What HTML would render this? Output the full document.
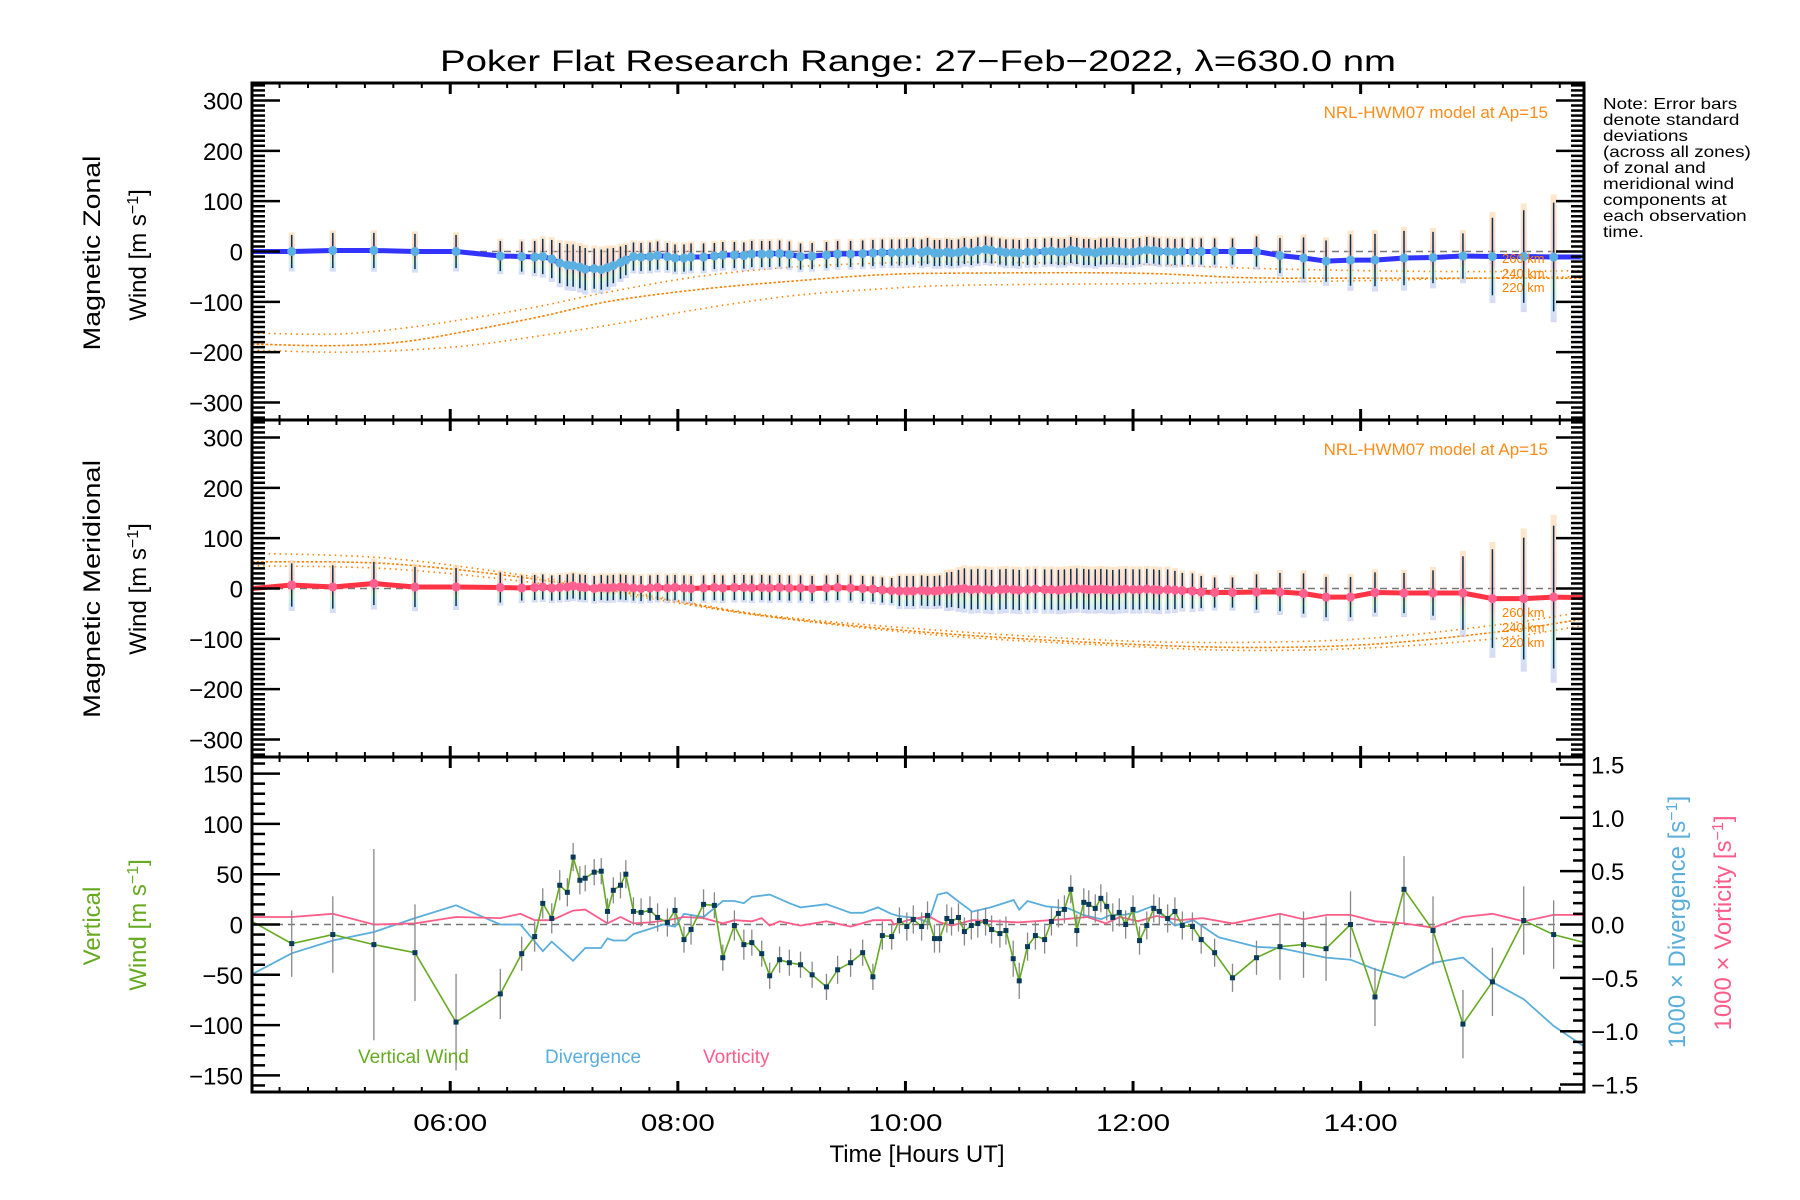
<!DOCTYPE html>
<html><head><meta charset="utf-8"><title>Poker Flat winds</title>
<style>html,body{margin:0;padding:0;background:#fff}svg{display:block}text{font-family:"Liberation Sans",sans-serif}</style>
</head><body>
<svg id="chart" xmlns="http://www.w3.org/2000/svg" width="1800" height="1200" viewBox="0 0 1800 1200">
<defs>
<linearGradient id="band" x1="0" y1="0" x2="0" y2="1">
<stop offset="0" stop-color="#fddcb0"/><stop offset="0.3" stop-color="#fbc4b0"/><stop offset="0.55" stop-color="#f7b8b8"/><stop offset="0.7" stop-color="#c8efc0"/><stop offset="0.85" stop-color="#b8e0f0"/><stop offset="1" stop-color="#c4c4f0"/>
</linearGradient>
<clipPath id="c1"><rect x="252" y="83" width="1332" height="337"/></clipPath>
<clipPath id="c2"><rect x="252" y="420" width="1332" height="337"/></clipPath>
<clipPath id="c3"><rect x="252" y="757" width="1332" height="335"/></clipPath>
</defs>
<text x="918" y="71" font-size="30" text-anchor="middle" textLength="956" lengthAdjust="spacingAndGlyphs">Poker Flat Research Range: 27−Feb−2022, λ=630.0 nm</text>
<g font-size="16" fill="#000" transform="translate(1603,0) scale(1.18,1)">
<text x="0" y="109">Note: Error bars</text>
<text x="0" y="125">denote standard</text>
<text x="0" y="141">deviations</text>
<text x="0" y="157">(across all zones)</text>
<text x="0" y="173">of zonal and</text>
<text x="0" y="189">meridional wind</text>
<text x="0" y="205">components at</text>
<text x="0" y="221">each observation</text>
<text x="0" y="237">time.</text>
</g>
<g id="layer-marks"></g>
<g id="layer-axes"></g>
<g font-size="24">
<text transform="translate(100,253) rotate(-90)" text-anchor="middle" textLength="195" lengthAdjust="spacingAndGlyphs">Magnetic Zonal</text>
<text transform="translate(146,255) rotate(-90)" text-anchor="middle">Wind [m s<tspan baseline-shift="super" font-size="16">−1</tspan>]</text>
</g>
<g font-size="24">
<text transform="translate(100,589) rotate(-90)" text-anchor="middle" textLength="258" lengthAdjust="spacingAndGlyphs">Magnetic Meridional</text>
<text transform="translate(146,589) rotate(-90)" text-anchor="middle">Wind [m s<tspan baseline-shift="super" font-size="16">−1</tspan>]</text>
</g>
<g font-size="24" fill="#66aa22">
<text transform="translate(100,926) rotate(-90)" text-anchor="middle">Vertical</text>
<text transform="translate(146,925) rotate(-90)" text-anchor="middle">Wind [m s<tspan baseline-shift="super" font-size="16">−1</tspan>]</text>
</g>
<text transform="translate(1685,922) rotate(-90)" text-anchor="middle" font-size="24" fill="#5aaedc">1000 × Divergence [s<tspan baseline-shift="super" font-size="16">−1</tspan>]</text>
<text transform="translate(1731,923) rotate(-90)" text-anchor="middle" font-size="24" fill="#ff5c8a">1000 × Vorticity [s<tspan baseline-shift="super" font-size="16">−1</tspan>]</text>
<text x="917" y="1162" font-size="24" text-anchor="middle">Time [Hours UT]</text>
<text x="1548" y="118" font-size="17" fill="#ff8c1a" text-anchor="end">NRL-HWM07 model at Ap=15</text>
<text x="1548" y="455" font-size="17" fill="#ff8c1a" text-anchor="end">NRL-HWM07 model at Ap=15</text>
<text x="358" y="1063" font-size="19" fill="#66aa22">Vertical Wind</text>
<text x="545" y="1063" font-size="19" fill="#5aaedc">Divergence</text>
<text x="703" y="1063" font-size="19" fill="#ff5c8a">Vorticity</text>
</svg>
<script>
// ---- data ----
const obsTimes = [4.26,
4.607,4.968,5.329,5.690,6.051,6.440,6.628,6.742,6.813,6.892,6.962,7.029,7.080,7.139,7.186,7.265,7.327,7.382,7.433,7.496,7.543,7.610,7.677,7.755,7.822,7.908,7.975,8.054,8.116,8.226,8.321,8.395,8.497,8.580,8.650,8.737,8.807,8.894,8.980,9.078,9.180,9.306,9.404,9.518,9.624,9.714,9.797,9.879,
9.947,10.012,10.069,10.142,10.194,10.255,10.300,10.364,10.405,10.466,10.518,10.579,10.636,10.704,10.757,10.830,10.883,10.947,11.000,11.073,11.142,11.223,11.283,11.344,11.397,11.453,11.506,11.567,11.611,11.668,11.717,11.769,11.822,11.879,11.935,12.000,12.057,12.121,12.182,12.231,12.304,12.368,12.433,12.522,12.599,12.717,12.874,13.085,13.291,13.498,13.696,13.911,14.126,14.381,14.636,14.899,15.158,15.433,15.696,
15.97];
const vertWind = [3,
-19,-10,-20,-28,-97,-69,-29,-12,21,6,39,32,67,44,46,52,53,13,34,39,50,13,12,14,7,2,14,-15,-5,20,19,-33,-1,-20,-18,-29,-51,-35,-38,-40,-50,-62,-45,-38,-28,-52,-11,-12,
4,-2,5,-2,9,-14,-14,6,3,7,-7,-1,1,3,-5,-9,-6,-34,-56,-22,-11,-15,3,11,15,35,-6,22,20,16,26,18,7,12,0,15,-16,-1,16,13,6,13,-1,-2,-15,-28,-53,-33,-22,-20,-24,0,-72,35,-6,-99,-57,4,-10,
-18];
const vertErr = [0,
33,38,95,48,48,25,17,15,15,15,15,14,14,14,13,13,13,13,13,13,14,14,14,14,14,14,13,13,15,15,13,13,15,15,13,13,13,13,13,13,13,13,14,14,13,13,14,13,
13,14,14,14,14,14,14,14,14,14,14,14,14,14,14,14,14,18,18,14,14,14,14,14,14,14,16,14,14,14,14,14,14,14,14,14,14,14,14,14,14,14,14,14,14,14,14,17,33,33,32,33,29,33,34,34,34,34,34,33,
0];
const zonalWind = [0,
0,2,2,0,0,-9,-10,-11,-10,-15,-23,-27,-28,-31,-35,-34,-36,-32,-28,-22,-17,-10,-11,-10,-8,-10,-13,-13,-11,-11,-9,-7,-7,-8,-5,-5,-5,-4,-6,-10,-9,-7,-5,-5,-4,-3,-2,-2,
-2,-1,0,-2,1,-3,-3,-1,-3,-2,1,-1,2,4,2,0,-2,-2,-3,-1,-1,0,1,-1,-1,3,1,-1,-1,-3,0,0,1,0,-1,-1,1,3,2,0,0,-1,0,0,0,0,0,0,-8,-13,-19,-17,-17,-13,-12,-9,-10,-10,-11,
-11];
const zonalErr = [0,
33,35,35,35,33,30,30,32,35,38,40,42,42,42,42,40,40,38,35,32,30,28,28,28,28,27,27,27,27,27,26,26,26,26,26,26,26,26,26,26,26,26,26,26,26,26,26,26,
26,26,26,26,26,26,26,26,26,26,26,26,26,26,26,26,26,26,26,26,26,26,26,26,26,26,26,26,26,26,26,26,26,26,26,26,26,26,26,26,26,26,26,26,26,26,26,30,35,41,41,51,52,54,51,45,77,92,108,142,
0];
const meridWind = [0,
7,3,10,3,3,2,1,2,3,1,2,3,5,3,2,0,2,1,2,3,2,1,0,1,2,1,2,1,0,1,2,1,2,2,1,2,1,2,1,1,0,1,2,1,0,-1,-3,-4,
-5,-5,-5,-4,-5,-5,-4,-3,-2,-1,0,-2,-1,-2,-3,-2,-1,-2,-3,-2,-1,-2,-2,-3,-2,-1,0,-1,-2,-2,-1,-2,-3,-2,-1,-2,-2,-1,-2,-3,-2,-3,-4,-5,-7,-8,-8,-7,-7,-10,-17,-17,-8,-9,-9,-9,-20,-20,-17,
-18];
const meridErr = [0,
43,43,43,40,38,30,25,25,25,25,25,25,25,25,25,25,25,25,25,25,25,25,25,25,25,25,25,25,25,25,25,25,25,25,25,25,25,25,25,25,25,25,25,25,25,25,25,25,
30,30,30,30,30,30,30,35,35,38,40,40,40,40,40,40,40,40,40,40,40,40,40,40,40,40,40,40,40,40,40,40,40,40,40,40,40,40,40,40,40,38,35,35,32,30,30,35,38,40,40,40,40,40,45,73,98,121,142,
0];
const divTimes = [4.253,4.607,4.968,5.329,5.690,6.051,6.440,6.617,6.813,6.892,7.080,7.186,7.323,7.382,7.433,7.543,7.610,7.873,7.975,8.054,8.226,8.395,8.497,8.580,8.650,8.807,8.980,9.078,9.306,9.518,9.624,9.758,9.875,
9.939,10.101,10.202,10.283,10.364,10.486,10.587,10.749,10.951,11.000,11.073,11.235,11.437,11.559,11.721,11.802,11.923,12.045,12.166,12.368,12.530,12.753,13.085,13.291,13.696,13.911,14.126,14.381,14.636,14.899,15.158,15.433,15.696,15.972];
const divValues = [-0.47,-0.27,-0.15,-0.07,0.06,0.18,0,0,-0.25,-0.16,-0.34,-0.22,-0.22,-0.13,-0.15,-0.15,-0.09,0,-0.02,0.10,0.07,0.22,0.22,0.20,0.26,0.28,0.20,0.16,0.19,0.11,0.11,0.16,0.10,
0.08,0.06,0.02,0.28,0.30,0.20,0.12,0.16,0.23,0.14,0.22,0.17,0.15,0.09,0.05,0.09,0.09,0.12,0.17,-0.01,0.04,-0.12,-0.21,-0.22,-0.31,-0.33,-0.42,-0.50,-0.36,-0.31,-0.54,-0.70,-0.95,-1.15];
const vortTimes = [4.253,4.607,4.968,5.329,5.690,6.051,6.440,6.617,6.742,6.892,7.080,7.186,7.382,7.496,7.610,7.755,7.908,8.054,8.226,8.395,8.497,8.650,8.737,8.807,8.894,9.078,9.306,9.518,9.714,9.875,
9.899,10.020,10.202,10.304,10.405,10.587,10.992,11.397,11.599,11.761,11.883,12.045,12.206,12.409,12.611,12.874,13.291,13.498,13.704,13.911,14.126,14.381,14.636,14.899,15.158,15.433,15.696,15.972];
const vortValues = [0.07,0.07,0.10,0,0.01,0.07,0.06,0.10,0.04,0.04,0.13,0.14,0.01,0.07,0.01,0.02,0.04,0.07,0.06,0.01,0.04,0.03,0.06,-0.01,0.03,-0.01,0.03,-0.02,0.04,0.04,
0,0.04,0.08,0.02,-0.01,0.04,0.02,0.05,0.07,0.01,0.07,0.03,0.08,0.04,0.06,0.01,0.10,0.05,0.09,0.09,0.03,0.01,-0.03,0.07,0.10,0.03,0.09,0.09];
const hwmZonalTimes = [4.26,5.0,5.6,6.2,6.8,7.4,8.2,9.0,9.8,10.5,12.0,13.0,14.0,15.0,15.97];
const hwmZonal260 = [-162,-164,-152,-132,-108,-80,-49,-31,-23,-21,-25,-33,-38,-40,-38];
const hwmZonal240 = [-184,-187,-179,-156,-129,-99,-75,-59,-46,-43,-43,-52,-53,-53,-53];
const hwmZonal220 = [-196,-200,-196,-186,-167,-146,-114,-88,-74,-67,-64,-61,-58,-53,-50];
const hwmMeridTimes = [4.26,5.40,6.53,7.66,8.79,10.30,11.81,12.95,14.08,15.21,15.97];
const hwmMerid260 = [70,61,30,-10,-53,-83,-103,-107,-99,-72,-46];
const hwmMerid240 = [53,50,25,-13,-55,-89,-109,-117,-111,-86,-60];
const hwmMerid220 = [45,40,17,-17,-56,-93,-113,-123,-118,-99,-73];
const windTicks = [-300,-200,-100,0,100,200,300];
const vertTicks = [-150,-100,-50,0,50,100,150];
const rightTicks = [-1.5,-1.0,-0.5,0.0,0.5,1.0,1.5];
const timeTicks = [6,8,10,12,14];
const timeTickLabels = ["06:00","08:00","10:00","12:00","14:00"];

// ---- scales ----
const X0=252, X1=1584, T0=4.258, PXH=113.8;
const xT = t => X0 + (t - T0) * PXH;
const y1 = v => 251.5 - v * 0.5034;
const y2 = v => 588.5 - v * 0.5034;
const y3 = v => 924.5 - v * 1.006;
const yR = v => 924.5 - v * 106.7;
const NS = 'http://www.w3.org/2000/svg';
const marks = document.getElementById('layer-marks');
const axes = document.getElementById('layer-axes');
function mk(tag, attrs, parent){ const e=document.createElementNS(NS,tag); for(const k in attrs) e.setAttribute(k,attrs[k]); (parent||marks).appendChild(e); return e; }
function smoothPath(xs, ys){
  let d='M'+xs[0].toFixed(1)+','+ys[0].toFixed(1);
  for(let i=0;i<xs.length-1;i++){
    const x0=xs[Math.max(i-1,0)], y0=ys[Math.max(i-1,0)], xa=xs[i], ya=ys[i], xb=xs[i+1], yb=ys[i+1], x3=xs[Math.min(i+2,xs.length-1)], y3_=ys[Math.min(i+2,xs.length-1)];
    d+=' C'+(xa+(xb-x0)/6).toFixed(1)+','+(ya+(yb-y0)/6).toFixed(1)+' '+(xb-(x3-xa)/6).toFixed(1)+','+(yb-(y3_-ya)/6).toFixed(1)+' '+xb.toFixed(1)+','+yb.toFixed(1);
  }
  return d;
}

// ---- panels 1 & 2 ----
function windPanel(clip, ys, vals, errs, lineColor, ptColor, hwmT, hwmSets, panelName, zeroY){
  const g = mk('g',{'clip-path':'url(#'+clip+')'});
  
  
  const z = mk('line',{x1:X0,x2:X1,y1:zeroY,y2:zeroY,stroke:'#777','stroke-width':1.5,'stroke-dasharray':'7 5'},g);
  
  
  const dashes=['1.5 4','2.5 2','1.5 4'];
  hwmSets.forEach((arr,k)=>{
    const p = mk('path',{d:smoothPath(hwmT.map(xT),arr.map(ys)),fill:'none',stroke:'#ff8000','stroke-width':1.6,'stroke-dasharray':dashes[k]},g);
    
    
  });
  for(let i=0;i<obsTimes.length;i++){
    if(errs[i]<=0) continue;
    const x=xT(obsTimes[i]);
    const top=ys(vals[i]+errs[i]*1.15), bot=ys(vals[i]-errs[i]*1.2);
    const b = mk('rect',{x:x-3,y:top,width:6,height:bot-top,fill:'url(#band)',opacity:0.65},g);
    
    
  }
  const line = mk('polyline',{points:obsTimes.map((t,i)=>xT(t).toFixed(1)+','+ys(vals[i]).toFixed(1)).join(' '),fill:'none',stroke:lineColor,'stroke-width':5,'stroke-linejoin':'round'},g);
  
  
  for(let i=0;i<obsTimes.length;i++){
    if(errs[i]<=0) continue;
    const x=xT(obsTimes[i]);
    const e = mk('line',{x1:x,x2:x,y1:ys(vals[i]+errs[i]),y2:ys(vals[i]-errs[i]),stroke:'#0d3050','stroke-width':1.5},g);
    
    
    const c = mk('circle',{cx:x,cy:ys(vals[i]),r:4.5,fill:ptColor},g);
    
    
  }
}
windPanel('c1', y1, zonalWind, zonalErr, '#3333ff', '#5ab0e0', hwmZonalTimes, [hwmZonal260,hwmZonal240,hwmZonal220], 'zonal', y1(0));
windPanel('c2', y2, meridWind, meridErr, '#ff3344', '#ff6090', hwmMeridTimes, [hwmMerid260,hwmMerid240,hwmMerid220], 'meridional', y2(0));

// HWM altitude labels
[['260 km',y1(-13)],['240 km',y1(-43)],['220 km',y1(-71)],['260 km',612],['240 km',627],['220 km',642]].forEach(([s,y])=>{
  const t=mk('text',{x:1502,y:y+5,'font-size':13,fill:'#ff8000'});
  t.textContent=s;
  
  
});

// ---- panel 3 ----
const g3 = mk('g',{'clip-path':'url(#c3)'});


const z3 = mk('line',{x1:X0,x2:X1,y1:y3(0),y2:y3(0),stroke:'#777','stroke-width':1.5,'stroke-dasharray':'7 5'},g3);


const dl = mk('polyline',{points:divTimes.map((t,i)=>xT(t).toFixed(1)+','+yR(divValues[i]).toFixed(1)).join(' '),fill:'none',stroke:'#5aaedc','stroke-width':1.8},g3);


const vl = mk('polyline',{points:vortTimes.map((t,i)=>xT(t).toFixed(1)+','+yR(vortValues[i]).toFixed(1)).join(' '),fill:'none',stroke:'#ff5c8a','stroke-width':1.8},g3);


for(let i=0;i<obsTimes.length;i++){
  if(vertErr[i]<=0) continue;
  const x=xT(obsTimes[i]);
  const e = mk('line',{x1:x,x2:x,y1:y3(vertWind[i]+vertErr[i]),y2:y3(vertWind[i]-vertErr[i]),stroke:'#888','stroke-width':1.3},g3);
  
  
}
const wl = mk('polyline',{points:obsTimes.map((t,i)=>xT(t).toFixed(1)+','+y3(vertWind[i]).toFixed(1)).join(' '),fill:'none',stroke:'#66aa22','stroke-width':1.6},g3);


for(let i=0;i<obsTimes.length;i++){
  if(vertErr[i]<=0) continue;
  const r = mk('rect',{x:xT(obsTimes[i])-2.5,y:y3(vertWind[i])-2.5,width:5,height:5,fill:'#0a3a5a'},g3);
  
  
}

// ---- axes ----
function A(tag, attrs){ return mk(tag, attrs, axes); }
[[83,420],[420,757],[757,1092]].forEach(([top,bot],k)=>{
  const r = A('rect',{x:X0,y:top,width:X1-X0,height:bot-top,fill:'none',stroke:'#000','stroke-width':3});
  
  
  for(let t=4.5;t<15.9;t+=0.25){
    const major = timeTicks.indexOf(Math.round(t*100)/100)>=0;
    const L = major?11:5, x=xT(t);
    A('line',{x1:x,x2:x,y1:top,y2:top+L,stroke:'#000','stroke-width':major?3:2});
    A('line',{x1:x,x2:x,y1:bot,y2:bot-L,stroke:'#000','stroke-width':major?3:2});
  }
});
[[y1,'zonal'],[y2,'meridional']].forEach(([ys,nm])=>{
  for(let v=-330;v<=330;v+=10){
    const major = v%100===0, L = major?28:13, y=ys(v);
    A('line',{x1:X0,x2:X0+L,y1:y,y2:y,stroke:'#000','stroke-width':2.5});
    A('line',{x1:X1,x2:X1-L,y1:y,y2:y,stroke:'#000','stroke-width':2.5});
  }
  windTicks.forEach(v=>{
    const t = A('text',{x:243,y:ys(v)+9,'font-size':24,'text-anchor':'end'});
    t.textContent = (v<0?'−':'')+Math.abs(v);
    
    
  });
});
for(let v=-160;v<=160;v+=10){
  const major = v%50===0, L = major?28:13, y=y3(v);
  A('line',{x1:X0,x2:X0+L,y1:y,y2:y,stroke:'#000','stroke-width':2.5});
}
vertTicks.forEach(v=>{
  const t = A('text',{x:243,y:y3(v)+9,'font-size':24,'text-anchor':'end'});
  t.textContent = (v<0?'−':'')+Math.abs(v);
  
  
});
for(let k=-15;k<=15;k++){
  const v=k/10, major = k%5===0, L = major?24:11, y=yR(v);
  A('line',{x1:X1,x2:X1-L,y1:y,y2:y,stroke:'#000','stroke-width':2.5});
}
rightTicks.forEach(v=>{
  const t = A('text',{x:1591,y:yR(v)+9,'font-size':24});
  t.textContent = (v<0?'−':'')+Math.abs(v).toFixed(1);
  
  
});
timeTicks.forEach((t,i)=>{
  const e = A('text',{x:xT(t),y:1131,'font-size':24,'text-anchor':'middle',textLength:74,lengthAdjust:'spacingAndGlyphs'});
  e.textContent = timeTickLabels[i];
  
  
});
</script>
</body></html>
